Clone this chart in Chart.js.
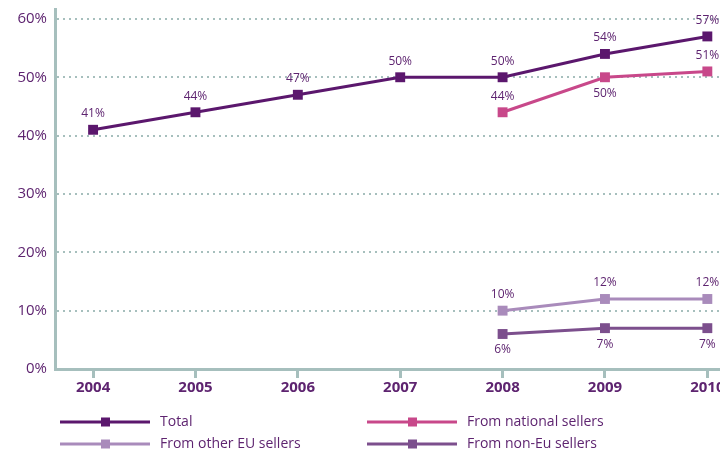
<!DOCTYPE html>
<html>
<head>
<meta charset="utf-8">
<script src="https://cdn.jsdelivr.net/npm/chart.js@4"></script>
<style>
  html, body { margin: 0; padding: 0; background: #fff; overflow: hidden; }
  #wrap { width: 760px; height: 462px; margin-top: -8px; }
</style>
</head>
<body>
<div id="wrap"><canvas id="chart"></canvas></div>
<script>
// values
const years = ['2004', '2005', '2006', '2007', '2008', '2009', '2010'];
const total = [41, 44, 47, 50, 50, 54, 57];
const national = [null, null, null, null, 44, 50, 51];
const otherEU = [null, null, null, null, 10, 12, 12];
const nonEU = [null, null, null, null, 6, 7, 7];
const yTicks = [0, 10, 20, 30, 40, 50, 60];

const textColor = '#5e2470';
const axisColor = '#a6bfbd';
const font = '"Open Sans", sans-serif';

const toPoints = arr => arr.map((v, i) => ({ x: i, y: v }));

function series(label, values, color, sides) {
    return {
        label: label,
        data: toPoints(values),
        borderColor: color,
        backgroundColor: color,
        borderWidth: 3,
        pointStyle: 'rect',
        pointRadius: 7,
        pointBorderWidth: 0,
        tension: 0,
        spanGaps: false,
        labelSide: sides
    };
}

// value labels next to each point
const pointLabels = {
    id: 'pointLabels',
    afterDatasetsDraw(chart) {
        const ctx = chart.ctx;
        ctx.save();
        ctx.font = '12px ' + font;
        ctx.fillStyle = textColor;
        ctx.textAlign = 'center';
        ctx.textBaseline = 'middle';
        chart.data.datasets.forEach((ds, di) => {
            chart.getDatasetMeta(di).data.forEach((pt, i) => {
                const v = ds.data[i].y;
                if (v == null) return;
                const down = ds.labelSide[i] === 'down';
                ctx.fillText(v + '%', pt.x, pt.y + (down ? 16 : -16));
            });
        });
        ctx.restore();
    }
};

// legend under the axis: line with a square marker, two columns
const lineLegend = {
    id: 'lineLegend',
    afterDraw(chart) {
        const ctx = chart.ctx;
        const colX = [60, 367];
        const rowY = [430, 452];
        ctx.save();
        ctx.font = '14px ' + font;
        ctx.textBaseline = 'middle';
        chart.data.datasets.forEach((ds, i) => {
            const x = colX[i % 2];
            const y = rowY[Math.floor(i / 2)];
            ctx.strokeStyle = ds.borderColor;
            ctx.lineWidth = 3;
            ctx.beginPath();
            ctx.moveTo(x, y);
            ctx.lineTo(x + 90, y);
            ctx.stroke();
            ctx.fillStyle = ds.borderColor;
            ctx.fillRect(x + 41, y - 4.5, 9, 9);
            ctx.fillStyle = textColor;
            ctx.fillText(ds.label, x + 100, y);
        });
        ctx.restore();
    }
};

new Chart(document.getElementById('chart'), {
    type: 'line',
    data: {
        datasets: [
            series('Total', total, '#5b176d', ['up', 'up', 'up', 'up', 'up', 'up', 'up']),
            series('From national sellers', national, '#c8488a', ['up', 'up', 'up', 'up', 'up', 'down', 'up']),
            series('From other EU sellers', otherEU, '#a98bbb', ['up', 'up', 'up', 'up', 'up', 'up', 'up']),
            series('From non-Eu sellers', nonEU, '#7c4f8d', ['down', 'down', 'down', 'down', 'down', 'down', 'down'])
        ]
    },
    options: {
        responsive: true,
        maintainAspectRatio: false,
        animation: false,
        layout: { padding: { top: 8, bottom: 60, left: 0, right: 0 } },
        plugins: { legend: { display: false }, tooltip: { enabled: false } },
        scales: {
            x: {
                type: 'linear',
                min: -0.372,
                max: 6.446,
                afterBuildTicks: s => { s.ticks = years.map((y, i) => ({ value: i })); },
                afterFit: s => { s.height = 25; },
                ticks: {
                    callback: v => years[v],
                    color: textColor,
                    font: { family: font, size: 15, weight: 'bold' },
                    padding: 1,
                    maxRotation: 0
                },
                grid: {
                    display: true,
                    drawOnChartArea: false,
                    drawTicks: true,
                    tickLength: 9,
                    tickWidth: 3,
                    tickColor: axisColor,
                    color: axisColor
                },
                border: { display: true, color: axisColor, width: 3 }
            },
            y: {
                min: 0,
                max: 61.7,
                afterBuildTicks: s => { s.ticks = yTicks.map(v => ({ value: v })); },
                afterFit: s => { s.width = 55; },
                ticks: {
                    callback: v => v + '%',
                    color: textColor,
                    font: { family: font, size: 15 },
                    padding: 8
                },
                grid: {
                    drawTicks: false,
                    color: axisColor,
                    lineWidth: 2
                },
                border: { display: true, color: axisColor, width: 3, dash: [2, 4] }
            }
        }
    },
    plugins: [pointLabels, lineLegend]
});
</script>
</body>
</html>
